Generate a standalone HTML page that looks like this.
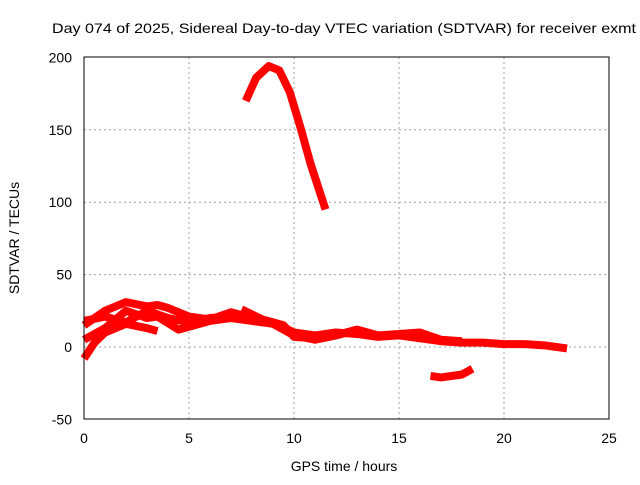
<!DOCTYPE html>
<html><head><meta charset="utf-8"><style>
body{margin:0;background:#fff;}
svg text{font-family:"Liberation Sans",sans-serif;font-size:14px;fill:#000;}
</style></head><body>
<svg width="640" height="480">
<text x="52" y="33" textLength="584" lengthAdjust="spacingAndGlyphs">Day 074 of 2025, Sidereal Day-to-day VTEC variation (SDTVAR) for receiver exmt</text>
<g id="grid"></g>
<g id="ticks"></g>
<g id="series"></g>
<rect x="84" y="57" width="525" height="362" fill="none" stroke="#000" stroke-width="1"/>
<text x="344" y="471" text-anchor="middle">GPS time / hours</text>
<text transform="translate(19,238) rotate(-90)" text-anchor="middle">SDTVAR / TECUs</text>
</svg>
<script>
const xTicks=[0,5,10,15,20,25];
const yTicks=[-50,0,50,100,150,200];
const seriesArc=[[7.7,170],[8.2,186],[8.8,194],[9.3,191],[9.8,176],[10.3,152],[10.8,126],[11.5,95]];
const seriesA=[[0,15],[1,25],[2,31],[3,28],[3.5,29],[4,27],[5,21],[6,19],[7,24],[8,20],[9,17],[10,10],[11,8],[12,10],[13,9],[14,7],[15,8],[16,6],[17,4],[18,3],[19,3],[20,2],[21,2],[22,1],[23,-1]];
const seriesB=[[0,5],[1,13],[2,25],[3,20],[3.5,21],[4.5,12],[5,14],[6,18],[7,20],[8,18],[9,16],[10,8],[11,5],[12,8],[13,12]];
const seriesC=[[0,-8],[0.5,3],[1,10],[2,16],[3,13],[3.5,11]];
const seriesD=[[0,18],[1,21],[2,17],[3,25],[4,20],[5,17],[6,20],[7,21]];
const seriesE=[[7.5,26],[8.5,19],[9.5,15],[10,7],[11,6]];
const seriesF=[[16.5,-20],[17,-21],[18,-19],[18.5,-15]];
const seriesG=[[12,8],[13,12],[14,8],[15,9],[16,10],[17,5],[18,4]];
const allSeries=[seriesArc,seriesA,seriesB,seriesC,seriesD,seriesE,seriesF,seriesG];
const NS="http://www.w3.org/2000/svg";
const sx=h=>84+h*21;
const sy=v=>347-v*1.448;
const grid=document.getElementById('grid'),ticks=document.getElementById('ticks'),ser=document.getElementById('series');
xTicks.forEach(t=>{
 if(t>0&&t<25){const l=document.createElementNS(NS,'line');
 
 
 l.setAttribute('x1',sx(t));l.setAttribute('x2',sx(t));l.setAttribute('y1',57);l.setAttribute('y2',419);
 l.setAttribute('stroke','#a0a0a0');l.setAttribute('stroke-dasharray','2,3');grid.appendChild(l);}
 const tx=document.createElementNS(NS,'text');
 
 
 tx.setAttribute('x',sx(t));tx.setAttribute('y',443);tx.setAttribute('text-anchor','middle');tx.textContent=t;ticks.appendChild(tx);
});
yTicks.forEach(t=>{
 if(t>-50&&t<200){const l=document.createElementNS(NS,'line');
 
 
 l.setAttribute('x1',84);l.setAttribute('x2',609);l.setAttribute('y1',sy(t));l.setAttribute('y2',sy(t));
 l.setAttribute('stroke','#a0a0a0');l.setAttribute('stroke-dasharray','2,3');grid.appendChild(l);}
 const tx=document.createElementNS(NS,'text');
 
 
 tx.setAttribute('x',72);tx.setAttribute('y',sy(t)+5);tx.setAttribute('text-anchor','end');tx.textContent=t;ticks.appendChild(tx);
});
allSeries.forEach(s=>{
 const p=document.createElementNS(NS,'polyline');
 
 
 p.setAttribute('points',s.map(d=>sx(d[0])+','+sy(d[1])).join(' '));
 p.setAttribute('fill','none');p.setAttribute('stroke','#ff0000');p.setAttribute('stroke-width','8');
 p.setAttribute('stroke-linejoin','round');
 ser.appendChild(p);
});
</script>
</body></html>
